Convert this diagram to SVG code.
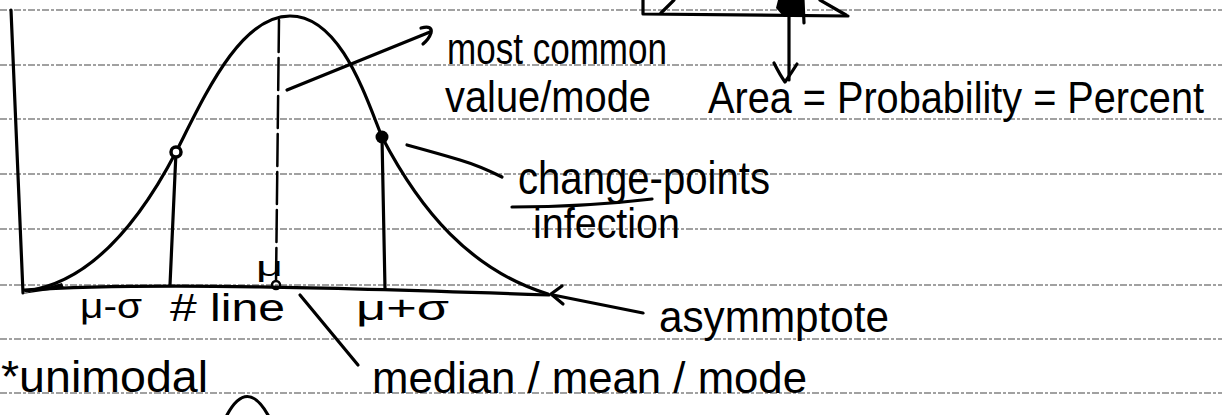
<svg xmlns="http://www.w3.org/2000/svg" width="1222" height="415" viewBox="0 0 1222 415">
<style>
.rule{stroke:#444;stroke-width:1.2;stroke-dasharray:7 2 3 2;fill:none}
.ink{stroke:#000;stroke-width:3.2;fill:none;stroke-linecap:round;stroke-linejoin:round}
.thin{stroke:#000;stroke-width:2.5;fill:none;stroke-linecap:round;stroke-linejoin:round}
.hw{font-family:"Liberation Sans",Arial,sans-serif;fill:#000;font-weight:normal}
</style>
<rect width="1222" height="415" fill="#fff"/>
<g id="rules">
<line class="rule" x1="0" y1="10" x2="1222" y2="10"/>
<line class="rule" x1="0" y1="65" x2="1222" y2="65"/>
<line class="rule" x1="0" y1="119" x2="1222" y2="119"/>
<line class="rule" x1="0" y1="174" x2="1222" y2="174"/>
<line class="rule" x1="0" y1="229" x2="1222" y2="229"/>
<line class="rule" x1="0" y1="285" x2="1222" y2="285"/>
<line class="rule" x1="0" y1="339" x2="1222" y2="339"/>
<line class="rule" x1="0" y1="393" x2="1222" y2="393"/>
</g>
<g id="top-figure">
<path class="ink" d="M643 0 L643 14 L848 16"/>
<path class="ink" d="M674 0 L661 13"/>
<path class="ink" d="M820 0 L846 15"/>
<path d="M778 0 L803 0 L804 16 L784 17 L776 8 Z" fill="#000"/>
<path class="ink" d="M803 0 L804 23"/>
</g>
<g id="graph">
<path class="ink" d="M11 10 L23 293"/>
<path d="M22 294 L62 283 L64 288 Z" fill="#000"/>
<path class="ink" d="M24 290 C150 282 350 288 549 295"/>
<path class="ink" d="M26 291 C80 284 130 240 176 152 C205 95 240 16 290 16 C340 16 365 95 382 137 C420 210 470 270 548 294"/>
<path class="ink" d="M176 152 L170 285"/>
<path class="ink" d="M382 137 L385 289"/>
<path class="thin" d="M279 20 L276 283" stroke-dasharray="32 6"/>
<circle cx="176" cy="152" r="5" fill="#fff" stroke="#000" stroke-width="3.5"/>
<circle cx="382" cy="137" r="6.5" fill="#000"/>
<circle cx="276" cy="285" r="4" fill="none" stroke="#000" stroke-width="2.5"/>
<path class="ink" d="M227 415 Q247 378 268 415"/>
</g>
<g id="connectors">
<path class="ink" d="M287 90 L430 32"/>
<path class="ink" d="M421 28 Q433 25 431 33 Q429 39 423 44"/>
<path class="ink" d="M789 12 L789 80"/>
<path class="ink" d="M774 63 Q780 75 785 82 Q792 72 797 64"/>
<path class="ink" d="M407 145 Q440 154 460 160 T502 177"/>
<path class="ink" d="M553 295 L643 313"/>
<path class="ink" d="M562 286 L551 294 L563 304"/>
<path class="ink" d="M300 295 L358 365"/>
<path class="ink" d="M512 207 Q585 207 652 199"/>
</g>
<g id="label-most-common"><text class="hw" x="447" y="64" font-size="45" textLength="220" lengthAdjust="spacingAndGlyphs">most common</text></g>
<g id="label-value-mode"><text class="hw" x="445" y="112" font-size="45" textLength="206" lengthAdjust="spacingAndGlyphs">value/mode</text></g>
<g id="label-area"><text class="hw" transform="translate(708 113) scale(1 1.15)" x="0" y="0" font-size="39" textLength="496" lengthAdjust="spacingAndGlyphs">Area = Probability = Percent</text></g>
<g id="label-change"><text class="hw" x="518" y="194" font-size="46" textLength="252" lengthAdjust="spacingAndGlyphs">change-points</text></g>
<g id="label-inflection"><text class="hw" x="533" y="238" font-size="42" textLength="147" lengthAdjust="spacingAndGlyphs">infection</text></g>
<g id="label-asymptote"><text class="hw" x="659" y="332" font-size="45" textLength="230" lengthAdjust="spacingAndGlyphs">asymmptote</text></g>
<g id="label-mu-minus"><text class="hw" x="80" y="318" font-size="35" textLength="62" lengthAdjust="spacingAndGlyphs">μ-σ</text></g>
<g id="label-line"><text class="hw" x="170" y="321" font-size="38" textLength="115" lengthAdjust="spacingAndGlyphs"># line</text></g>
<g id="label-mu-plus"><text class="hw" x="356" y="320" font-size="35" textLength="93" lengthAdjust="spacingAndGlyphs">μ+σ</text></g>
<g id="label-mu"><text class="hw" x="256" y="276" font-size="28" textLength="27" lengthAdjust="spacingAndGlyphs">μ</text></g>
<g id="label-unimodal"><text class="hw" x="1" y="392" font-size="45" textLength="207" lengthAdjust="spacingAndGlyphs">*unimodal</text></g>
<g id="label-median"><text class="hw" x="372" y="393" font-size="45" textLength="435" lengthAdjust="spacingAndGlyphs">median / mean / mode</text></g>
</svg>
